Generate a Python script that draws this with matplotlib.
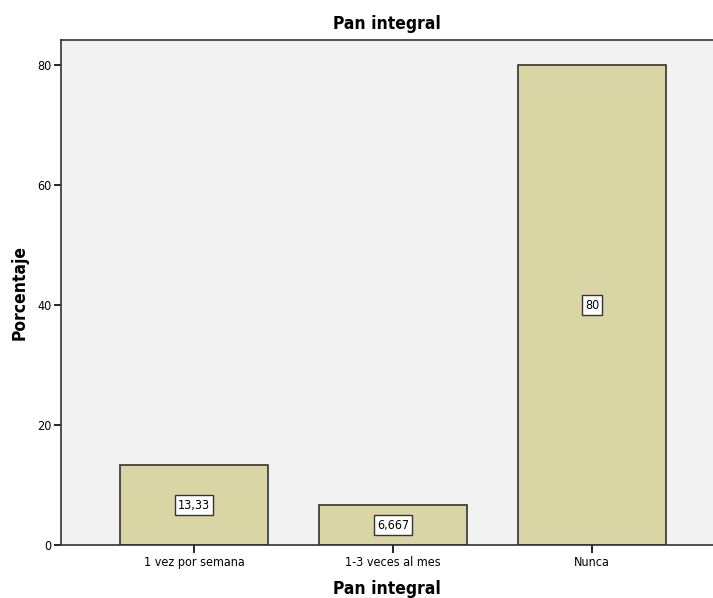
import matplotlib.pyplot as plt
import numpy as np

categorias = ['1 vez por semana', '1-3 veces al mes', 'Nunca']
porcentaje = [13.33, 6.667, 80]
etiquetas = ['13,33', '6,667', '80']


def main():
    plt.rcParams['font.family'] = ['DejaVu Sans']
    plt.rcParams['font.stretch'] = 'condensed'

    fig = plt.figure(figsize=(7.13, 5.98), dpi=100)
    ax = fig.add_axes([0.0856, 0.0886, 0.9144, 0.8444])
    ax.set_facecolor('#F2F2F2')

    x = np.arange(len(categorias))
    ax.bar(x, porcentaje, width=0.745, color='#DAD5A5', edgecolor='#333333', linewidth=1.2, zorder=2)

    # etiquetas de valor en el centro de cada barra
    for xi, v, t in zip(x, porcentaje, etiquetas):
        ax.text(xi, v / 2, t, ha='center', va='center', fontsize=9, zorder=3,
                bbox=dict(boxstyle='square,pad=0.25', facecolor='white', edgecolor='#333333', linewidth=1))

    ax.set_xlim(-0.668, 2.608)
    ax.set_ylim(0, 84.17)
    ax.set_yticks([0, 20, 40, 60, 80])
    ax.set_xticks(x)
    ax.set_xticklabels(categorias, fontsize=9)
    ax.tick_params(axis='y', labelsize=9, length=5, width=1.2, direction='out', pad=2)
    ax.tick_params(axis='x', length=6, width=1.2, direction='out', pad=2)

    for lado in ['left', 'bottom', 'top']:
        ax.spines[lado].set_color('#333333')
        ax.spines[lado].set_linewidth(1.2)
    ax.spines['right'].set_visible(False)

    ax.set_title('Pan integral', fontsize=12.5, fontweight='bold', pad=8)
    ax.set_xlabel('Pan integral', fontsize=12.5, fontweight='bold', labelpad=8)
    ax.set_ylabel('Porcentaje', fontsize=12.5, fontweight='bold', labelpad=6)

    fig.savefig('out.png', dpi=100)


if __name__ == '__main__':
    main()
